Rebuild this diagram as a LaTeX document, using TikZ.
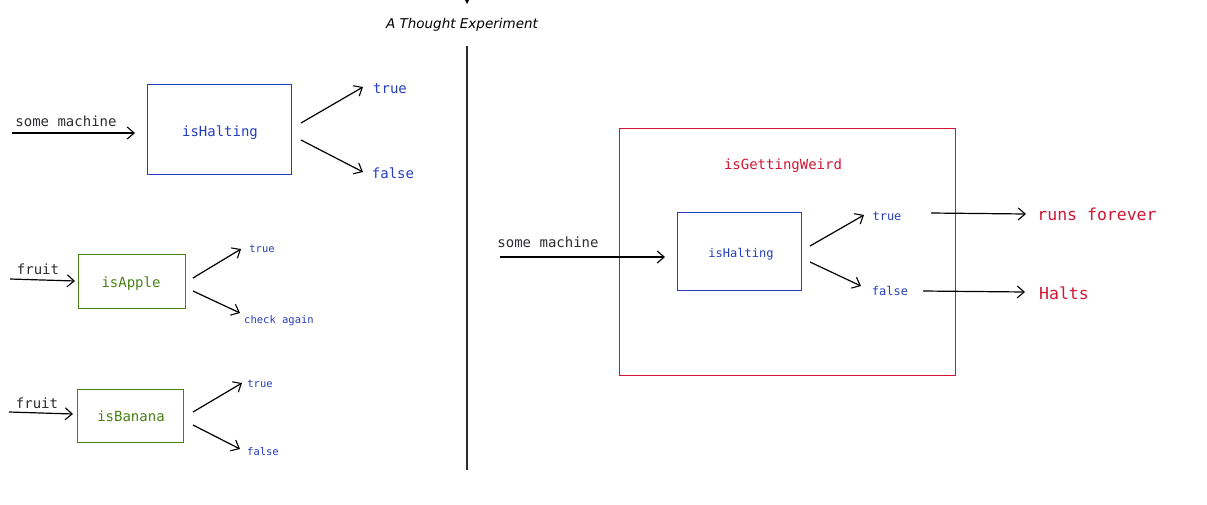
\documentclass[tikz,border=0pt]{standalone}
\usepackage{fontspec}
\setmonofont{DejaVu Sans Mono}
\setsansfont{DejaVu Sans}
\usetikzlibrary{arrows.meta}
\definecolor{cblue}{RGB}{38,62,190}
\definecolor{cgreen}{RGB}{72,130,22}
\definecolor{cred}{RGB}{208,22,52}
\definecolor{ctext}{RGB}{45,45,50}
\begin{document}
\begin{tikzpicture}[x=1pt,y=-1pt,
  conn/.style={draw=black,line width=1.2pt,-{Straight Barb[length=7pt,width=12pt,line width=1.1pt]}},
  bluebox/.style={draw=cblue,line width=1pt,inner sep=0pt},
  greenbox/.style={draw=cgreen,line width=1pt,inner sep=0pt},
  redbox/.style={draw=cred,line width=1pt,inner sep=0pt},
  txt/.style={inner sep=0pt,yshift=-1.5pt},
  lbl/.style={txt,font=\ttfamily\fontsize{14}{16}\selectfont,text=ctext},
  bluelbl/.style={txt,font=\ttfamily\fontsize{14}{16}\selectfont,text=cblue},
  smallblue/.style={txt,font=\ttfamily\fontsize{10.5}{12}\selectfont,text=cblue},
  midblue/.style={txt,font=\ttfamily\fontsize{12}{14}\selectfont,text=cblue},
  greenlbl/.style={txt,font=\ttfamily\fontsize{14}{16}\selectfont,text=cgreen},
  redlbl/.style={txt,font=\ttfamily\fontsize{14}{16}\selectfont,text=cred},
  bigred/.style={txt,font=\ttfamily\fontsize{16.5}{18}\selectfont,text=cred}
]
\useasboundingbox[fill=white] (0,0) rectangle (1207,504);

% title and divider
\node[txt,font=\sffamily\itshape\fontsize{13.5}{15}\selectfont] (title) at (462,23) {A Thought Experiment};
\fill (465,0) -- (469,0) -- (467,4) -- cycle;
\coordinate (divtop) at (467,46);
\coordinate (divbot) at (467,470);
\draw[line width=1.3pt,draw=ctext] (divtop) -- (divbot);

% top isHalting
\node[bluebox,minimum width=144pt,minimum height=90pt] (h1) at (219,129) {};
\node[bluelbl] (h1t) at (220,131) {isHalting};
\node[lbl] (sm1) at (66,120) {some machine};
\coordinate (sm1s) at (12,133);
\coordinate (sm1e) at (135,133);
\draw[conn] (sm1s) -- (sm1e);
\node[bluelbl] (t1) at (390,87) {true};
\node[bluelbl] (f1) at (393,172) {false};
\coordinate (t1s) at (301,123); \coordinate (t1e) at (363,87);
\coordinate (f1s) at (301,140); \coordinate (f1e) at (363,172);
\draw[conn] (t1s) -- (t1e);
\draw[conn] (f1s) -- (f1e);

% isApple
\node[greenbox,minimum width=107pt,minimum height=54pt] (ap) at (131.5,281) {};
\node[greenlbl] (apt) at (131,282) {isApple};
\node[lbl] (fr1) at (38,268) {fruit};
\coordinate (fr1s) at (10,279); \coordinate (fr1e) at (75,281);
\draw[conn] (fr1s) -- (fr1e);
\node[smallblue] (t2) at (262,247) {true};
\node[smallblue] (c2) at (279,319) {check again};
\coordinate (t2s) at (193,278); \coordinate (t2e) at (241,249);
\coordinate (c2s) at (193,291); \coordinate (c2e) at (240,313);
\draw[conn] (t2s) -- (t2e);
\draw[conn] (c2s) -- (c2e);

% isBanana
\node[greenbox,minimum width=106pt,minimum height=53pt] (ba) at (130,415.5) {};
\node[greenlbl] (bat) at (131,415) {isBanana};
\node[lbl] (fr2) at (37,402) {fruit};
\coordinate (fr2s) at (9,412); \coordinate (fr2e) at (73,414);
\draw[conn] (fr2s) -- (fr2e);
\node[smallblue] (t3) at (260,382) {true};
\node[smallblue] (f3) at (263,450) {false};
\coordinate (t3s) at (193,412); \coordinate (t3e) at (242,383);
\coordinate (f3s) at (193,425); \coordinate (f3e) at (240,449);
\draw[conn] (t3s) -- (t3e);
\draw[conn] (f3s) -- (f3e);

% right side
\node[redbox,minimum width=336pt,minimum height=247pt] (gw) at (787,251.5) {};
\node[redlbl] (gwt) at (783,164) {isGettingWeird};
\node[bluebox,minimum width=124pt,minimum height=78pt] (h2) at (739,251) {};
\node[midblue] (h2t) at (741,253) {isHalting};
\node[lbl] (sm2) at (548,241) {some machine};
\coordinate (sm2s) at (500,257); \coordinate (sm2e) at (665,257);
\draw[conn] (sm2s) -- (sm2e);
\node[midblue] (t4) at (887,215) {true};
\node[midblue] (f4) at (890,289) {false};
\coordinate (t4s) at (810,246); \coordinate (t4e) at (864,215);
\coordinate (f4s) at (810,262); \coordinate (f4e) at (861,286);
\draw[conn] (t4s) -- (t4e);
\draw[conn] (f4s) -- (f4e);
\node[bigred] (rf) at (1097,213) {runs forever};
\node[bigred] (ha) at (1064,292) {Halts};
\coordinate (rfs) at (931,213); \coordinate (rfe) at (1026,214);
\coordinate (has) at (923,291); \coordinate (hae) at (1025,292);
\draw[conn] (rfs) -- (rfe);
\draw[conn] (has) -- (hae);
\end{tikzpicture}
\end{document}
